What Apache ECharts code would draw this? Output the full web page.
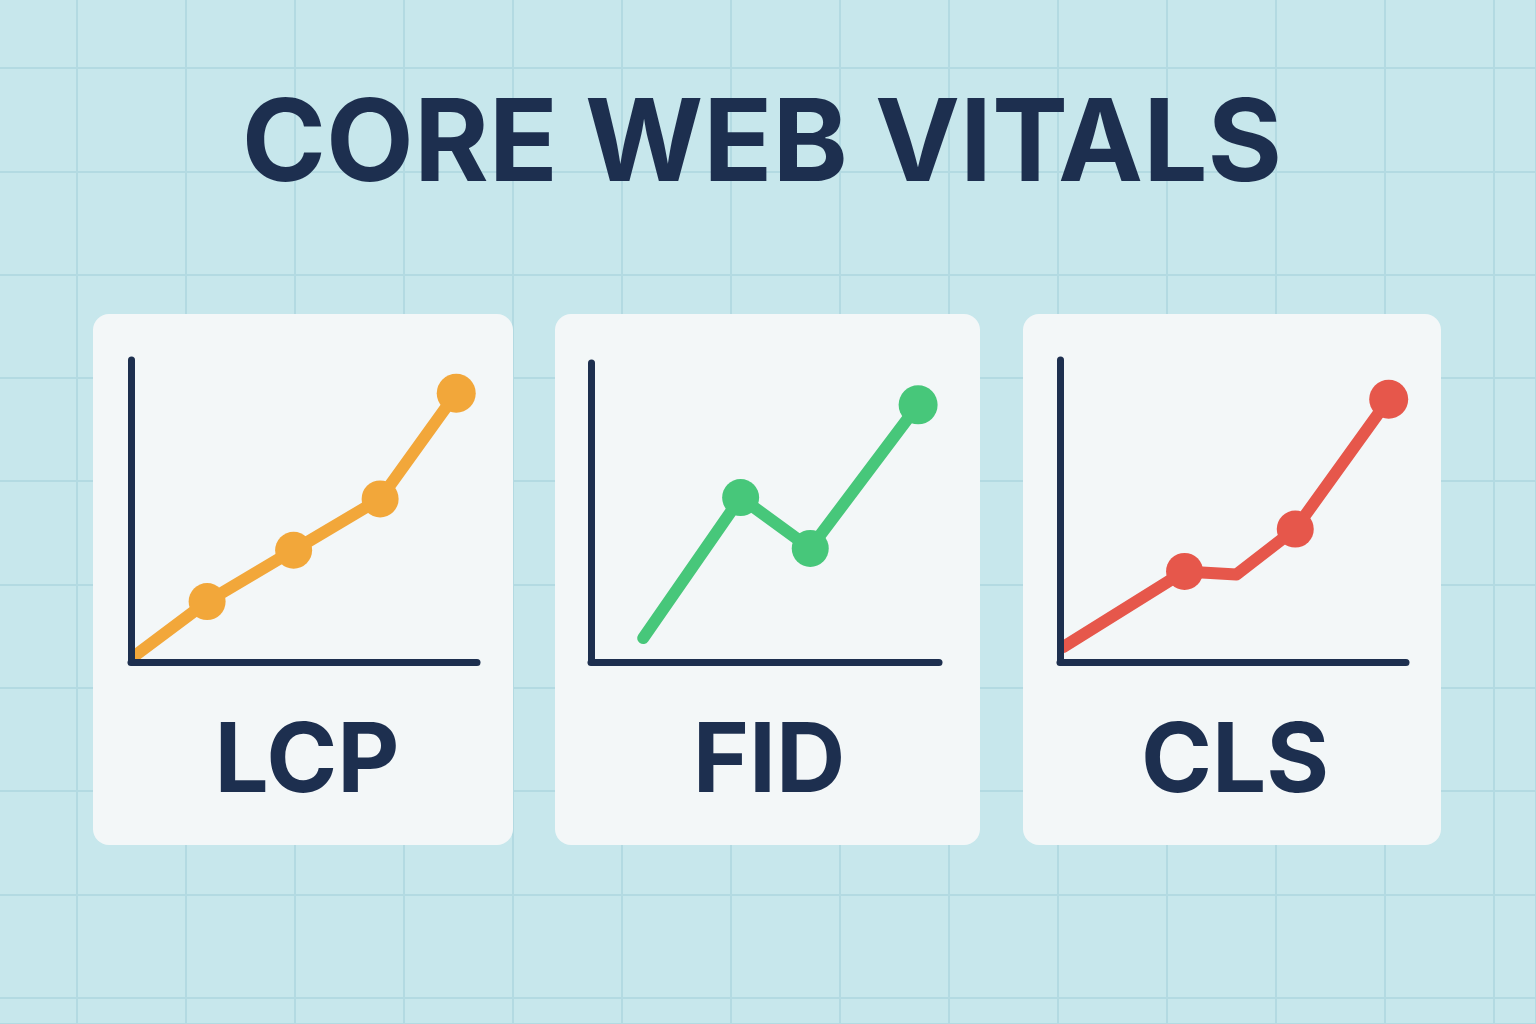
<!DOCTYPE html>
<html>
<head>
<meta charset="utf-8">
<title>Core Web Vitals</title>
<script src="https://cdn.jsdelivr.net/npm/echarts@6/dist/echarts.min.js"></script>
<style>
html, body { margin: 0; padding: 0; background: #c7e7ec; }
#main { width: 1536px; height: 1024px; }
</style>
</head>
<body>
<div id="main"></div>
<script>
var titleText = 'CORE WEB VITALS';
var metricNames = ['LCP', 'FID', 'CLS'];

// points, on a 0..10 scale for both axes
var lcpData = [[0.1, 0.2], [2.2, 2.0], [4.7, 3.7], [7.2, 5.4], [9.4, 8.9]];
var fidData = [[1.5, 0.8], [4.3, 5.5], [6.3, 3.8], [9.4, 8.6]];
var clsData = [[0.1, 0.5], [3.6, 3.0], [5.1, 2.9], [6.8, 4.4], [9.5, 8.7]];

var navy = '#1d2f4f';
var colors = ['#f2a73a', '#47c77a', '#e6574b'];
var paperLine = { show: true, lineStyle: { color: '#b3dae2', width: 2 } };
var hidden = { axisLine: { show: false }, axisTick: { show: false }, axisLabel: { show: false }, splitLine: { show: false } };

// layout of the three cards and their plot areas
var cards = [
	{ x: 93, w: 420, plot: { left: 131, top: 360, width: 346, height: 302 }, label: 307, noDot: [0] },
	{ x: 555, w: 425, plot: { left: 591, top: 363, width: 348, height: 299 }, label: 769, noDot: [0] },
	{ x: 1023, w: 418, plot: { left: 1060, top: 360, width: 346, height: 302 }, label: 1235, noDot: [0, 2] }
];
var seriesData = [lcpData, fidData, clsData];

var dom = document.getElementById('main');
var myChart = echarts.init(dom, null, { renderer: 'canvas' });

// background paper: one grid for the vertical lines, one for the horizontal ones
var grids = [
	{ left: 77, right: 0, top: 0, bottom: 0 },
	{ left: 0, right: 0, top: 68, bottom: 0 }
];
var xAxes = [
	Object.assign({}, hidden, { gridIndex: 0, type: 'value', min: 0, max: 1459, interval: 109, splitLine: paperLine }),
	Object.assign({}, hidden, { gridIndex: 1, type: 'value', min: 0, max: 1 })
];
var yAxes = [
	Object.assign({}, hidden, { gridIndex: 0, type: 'value', min: 0, max: 1 }),
	Object.assign({}, hidden, { gridIndex: 1, type: 'value', min: 0, max: 956, interval: 103.3, inverse: true, splitLine: paperLine })
];

var series = [];
var graphics = [{
	type: 'text', x: 762, y: 147, z: 5,
	style: {
		text: titleText, fill: navy, fontFamily: 'Inter', fontWeight: 700, fontSize: 114,
		align: 'center', verticalAlign: 'middle'
	}
}];

cards.forEach(function(card, i) {
	var gi = i + 2;
	grids.push(card.plot);
	var axisBase = {
		gridIndex: gi, type: 'value', min: 0, max: 10, z: 4,
		axisLine: { show: true, onZero: false, lineStyle: { color: navy, width: 7, cap: 'round' } },
		axisTick: { show: false }, axisLabel: { show: false }, splitLine: { show: false }
	};
	xAxes.push(Object.assign({}, axisBase));
	yAxes.push(Object.assign({}, axisBase));

	var pts = seriesData[i];
	series.push({
		type: 'line',
		xAxisIndex: gi,
		yAxisIndex: gi,
		silent: true,
		clip: false,
		z: 2,
		symbol: 'circle',
		symbolSize: 37,
		showAllSymbol: true,
		lineStyle: { color: colors[i], width: 12, cap: 'round', join: 'round' },
		itemStyle: { color: colors[i] },
		data: pts.map(function(p, k) {
			var item = { value: p };
			if (card.noDot.indexOf(k) >= 0) item.symbol = 'none';
			if (k === pts.length - 1) item.symbolSize = 39;
			return item;
		})
	});

	graphics.push({
		type: 'rect', z: 1,
		shape: { x: card.x, y: 314, width: card.w, height: 531, r: 16 },
		style: { fill: '#f3f7f8' }
	});
	graphics.push({
		type: 'text', x: card.label, y: 763, z: 5,
		style: {
			text: metricNames[i], fill: navy, fontFamily: 'Inter', fontWeight: 700, fontSize: 96,
			align: 'center', verticalAlign: 'middle'
		}
	});
});

myChart.setOption({
	animation: false,
	backgroundColor: '#c7e7ec',
	grid: grids,
	xAxis: xAxes,
	yAxis: yAxes,
	series: series,
	graphic: graphics
});
</script>
</body>
</html>
